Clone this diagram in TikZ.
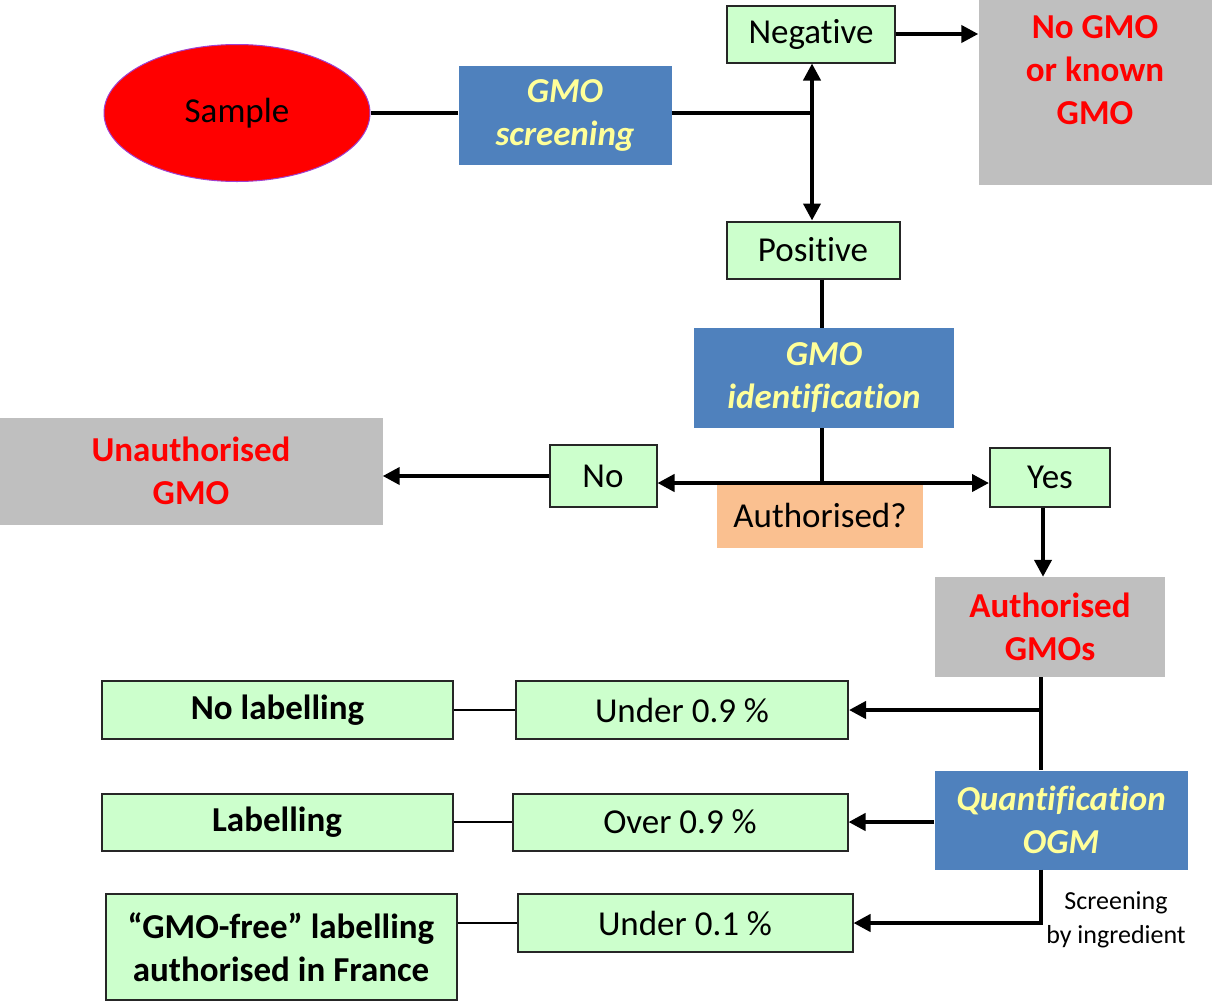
\documentclass[tikz,border=0pt]{standalone}
\usepackage{fontspec}
\setmainfont{Carlito}[Ligatures=NoCommon]
\usetikzlibrary{positioning, arrows.meta, shapes.geometric}

\definecolor{verdeclaro}{HTML}{CCFFCC}
\definecolor{azulgmo}{HTML}{4F81BD}
\definecolor{amarillo}{HTML}{FFFF99}
\definecolor{grisclaro}{HTML}{BFBFBF}
\definecolor{rojo}{HTML}{FF0000}
\definecolor{naranja}{HTML}{FAC090}
\definecolor{morado}{HTML}{A040D0}

\begin{document}
\begin{tikzpicture}[
    x=1pt, y=-1pt,
    caja/.style={
        rectangle,
        align=center,
        inner sep=2pt,
        font=\fontsize{35}{43}\selectfont,
    },
    verde/.style={caja, draw=black!85, line width=2pt, fill=verdeclaro}, % cajas verdes
    azul/.style={caja, fill=azulgmo, text=amarillo, font=\fontsize{35}{43}\selectfont\bfseries\itshape},
    gris/.style={caja, fill=grisclaro, text=rojo, font=\fontsize{35}{43}\selectfont\bfseries},
    negrita/.style={verde, font=\fontsize{35}{43}\selectfont\bfseries, minimum width=351pt},
    linea/.style={line width=4pt},
    fina/.style={line width=1.5pt},
    arr/.style={linea, -{Triangle[length=17pt, width=17pt]}},
    arrdoble/.style={linea, {Triangle[length=17pt, width=17pt]}-{Triangle[length=17pt, width=17pt]}}
]
\useasboundingbox (0,0) rectangle (1212,1002);

% Nodos
\node[ellipse, draw=morado, line width=1pt, fill=red, minimum width=266pt, minimum height=137pt,
      font=\fontsize{35}{43}\selectfont] (sample) at (237,113) {Sample};
\node[azul, minimum width=213pt, minimum height=99pt] (cribado) at (565,115) {GMO\\screening};
\node[verde, minimum width=168pt, minimum height=57pt] (negativo) at (811,34) {Negative};
\node[gris, minimum width=233pt, minimum height=185pt] (nogmo) at (1095,92) {No GMO\\or known\\GMO\\\mbox{}};
\node[verde, minimum width=173pt, minimum height=57pt] (positivo) at (813,250) {Positive};
\node[azul, minimum width=260pt, minimum height=100pt] (ident) at (824,378) {GMO\\identification};
\node[caja, fill=naranja, minimum width=206pt, minimum height=65pt] (autq) at (820,515) {Authorised?};
\node[verde, minimum width=107pt, minimum height=62pt] (no) at (603,476) {No};
\node[verde, minimum width=120pt, minimum height=59pt] (si) at (1050,477) {Yes};
\node[gris, minimum width=383pt, minimum height=107pt] (noaut) at (191,471) {Unauthorised\\GMO};
\node[gris, minimum width=230pt, minimum height=100pt] (autgmo) at (1050,627) {Authorised\\GMOs};
\node[azul, minimum width=253pt, minimum height=99pt] (cuant) at (1061,820) {Quantification\\OGM};

% Umbrales
\node[verde, minimum width=332pt, minimum height=58pt] (menos09) at (682,710) {Under 0.9 \%};
\node[verde, minimum width=335pt, minimum height=57pt] (mas09) at (680,822) {Over 0.9 \%};
\node[verde, minimum width=335pt, minimum height=58pt] (menos01) at (685,923) {Under 0.1 \%};

% Etiquetado
\node[negrita, minimum height=58pt, left=61pt of menos09] (noetiq) {No labelling};
\node[negrita, minimum height=57pt, left=58pt of mas09] (etiq) {Labelling};
\node[negrita, minimum height=106pt, anchor=north east] (libre) at ([xshift=-59pt]menos01.north west)
      {``GMO-free'' labelling\\authorised in France};
\node[align=center, font=\fontsize{26}{34}\selectfont] (cribtxt) at (1116,920) {Screening\\by ingredient};

% Puntos de union
\coordinate (j1) at (812,113);
\coordinate (j2) at (822,483);
\coordinate (j3) at (1041,710);

% Conexiones principales
\draw[linea] (sample.east |- j1) -- (cribado.west |- j1);
\draw[linea] (cribado.east |- j1) -- (j1);
\draw[arrdoble] (negativo.south -| j1) -- (positivo.north -| j1);
\draw[arr] (negativo.east) -- (nogmo.west |- negativo.east);
\draw[linea] (positivo.south -| j2) -- (ident.north -| j2);
\draw[linea] (ident.south -| j2) -- (j2);

% Decision
\draw[arrdoble] (no.east |- j2) -- (si.west |- j2);
\draw[arr] (no.west) -- (noaut.east |- no.west);
\draw[arr] ([xshift=-7pt]si.south) -- ([xshift=-7pt]si.south |- autgmo.north);

% Cuantificacion
\draw[linea] (autgmo.south -| j3) -- (cuant.north -| j3);
\draw[arr] (j3) -- (menos09.east);
\draw[arr] (cuant.west |- mas09) -- (mas09.east);
\draw[arr] (cuant.south -| j3) |- (menos01.east);

% Lineas finas
\draw[fina] (noetiq) -- (menos09);
\draw[fina] (etiq) -- (mas09);
\draw[fina] (libre.east |- menos01) -- (menos01);

\end{tikzpicture}
\end{document}
